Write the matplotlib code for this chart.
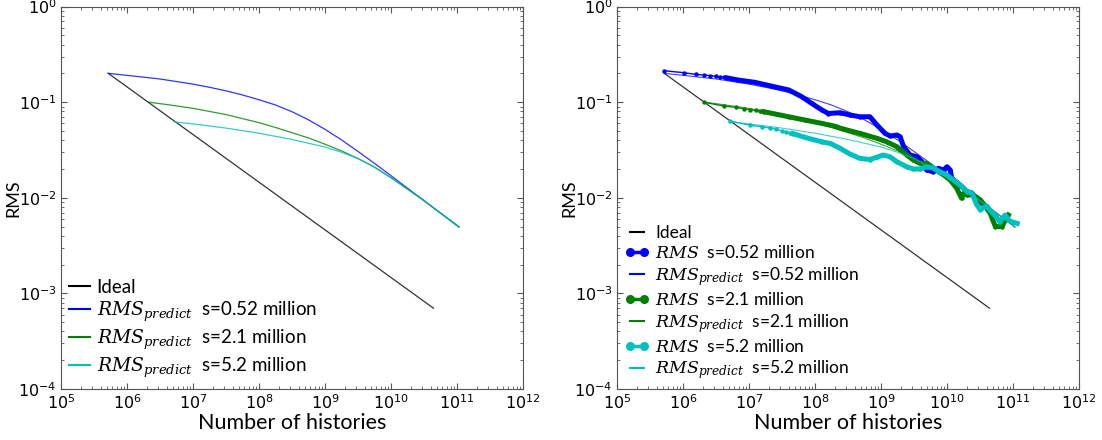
import matplotlib
matplotlib.use("Agg")
import matplotlib.pyplot as plt
from matplotlib.lines import Line2D

plt.rcParams["mathtext.fontset"] = "dejavuserif"
plt.rcParams["font.family"] = ["Lato", "DejaVu Sans"]

# ideal 1/sqrt(N) reference line (end points)
ideal_x = [5.2e5, 4.4e10]
ideal_y = [0.200, 7.0e-4]

# predicted RMS curves
blue_pred_x = [5.2e5, 1e6, 3.16e6, 1e7, 1.78e7, 3.16e7, 5.62e7, 1e8, 1.78e8, 3.16e8,
               5.62e8, 1e9, 1.78e9, 3.16e9, 5.62e9, 1e10, 3.16e10, 1.07e11]
blue_pred_y = [0.200, 0.1905, 0.1746, 0.1542, 0.1429, 0.1312, 0.1189, 0.1059, 0.0933,
               0.0794, 0.0653, 0.0519, 0.0403, 0.0305, 0.0229, 0.0170, 0.00933, 0.00495]
green_pred_x = [2.1e6, 4e6, 1e7, 3.16e7, 1e8, 1.78e8, 3.16e8, 5.62e8, 1e9, 1.78e9,
                3.16e9, 5.62e9, 1e10, 1.78e10, 3.16e10, 1.07e11]
green_pred_y = [0.100, 0.0944, 0.0861, 0.0741, 0.0610, 0.0543, 0.0479, 0.0422, 0.0363,
                0.0309, 0.0257, 0.0209, 0.0162, 0.0123, 0.00933, 0.00495]
cyan_pred_x = [5.2e6, 1e7, 3.16e7, 1e8, 3.16e8, 1e9, 1.78e9, 3.16e9, 5.62e9, 1e10,
               1.78e10, 3.16e10, 1.07e11]
cyan_pred_y = [0.0621, 0.0592, 0.0535, 0.0473, 0.0407, 0.0339, 0.0299, 0.0257, 0.0209,
               0.0162, 0.0123, 0.00933, 0.00495]

# measured RMS (right panel)
blue_meas_x = [5.2e5, 1.04e6, 1.56e6, 2.08e6, 2.6e6, 3.12e6, 3.64e6, 4.16e6, 4.68e6,
               6.9e6, 1.23e7, 2.2e7, 4e7, 6.3e7, 8.9e7, 1.26e8, 1.6e8, 2.4e8, 3.4e8,
               4.8e8, 6.8e8, 8.7e8, 1.15e9, 1.38e9, 1.74e9, 1.95e9, 2.2e9, 2.75e9,
               3.5e9, 4.2e9, 4.9e9, 6.2e9, 7.4e9, 8.9e9, 1e10, 1.12e10, 1.18e10,
               1.58e10, 2e10, 2.4e10, 2.9e10, 3.5e10, 4e10]
blue_meas_y = [0.213, 0.203, 0.195, 0.192, 0.189, 0.186, 0.183, 0.182, 0.179,
               0.170, 0.161, 0.147, 0.134, 0.114, 0.097, 0.083, 0.076, 0.0775, 0.0733,
               0.0703, 0.0703, 0.0576, 0.0471, 0.0442, 0.0453, 0.0435, 0.0342, 0.028,
               0.0268, 0.0238, 0.0195, 0.0187, 0.0203, 0.0195, 0.0211, 0.0195, 0.016,
               0.0136, 0.0116, 0.0112, 0.0091, 0.0087, 0.0078]
green_meas_x = [2.1e6, 4.2e6, 6.3e6, 8.4e6, 1.05e7, 1.26e7, 1.47e7, 1.68e7, 4e7, 7e7,
                1.26e8, 2e8, 2.5e8, 4.8e8, 8.7e8, 1.22e9, 1.74e9, 2.45e9, 3.1e9, 3.9e9,
                4.9e9, 6.2e9, 8.9e9, 1.12e10, 1.4e10, 1.66e10, 1.78e10, 2e10, 2.5e10,
                3.2e10, 4.5e10, 5.4e10, 6.8e10, 7.6e10, 8.5e10]
green_meas_y = [0.0995, 0.091, 0.0882, 0.0853, 0.0833, 0.082, 0.0807, 0.0794, 0.0703,
                0.065, 0.060, 0.056, 0.053, 0.0471, 0.0418, 0.0385, 0.0342, 0.028,
                0.0248, 0.0229, 0.0229, 0.0203, 0.0173, 0.0153, 0.0126, 0.0099, 0.0111,
                0.0107, 0.0107, 0.0095, 0.0069, 0.0050, 0.0050, 0.0058, 0.0066]
cyan_meas_x = [5.2e6, 1.04e7, 1.56e7, 2.08e7, 2.6e7, 3.12e7, 3.64e7, 4.16e7, 4.68e7,
               7e7, 1.26e8, 1.7e8, 2.4e8, 3.4e8, 4.8e8, 6.8e8, 8.6e8, 1.08e9, 1.37e9,
               1.74e9, 2.45e9, 3.1e9, 3.9e9, 4.9e9, 6.2e9, 7.8e9, 9.9e9, 1.26e10,
               1.58e10, 2e10, 2.4e10, 2.8e10, 3.2e10, 4e10, 4.5e10, 5.6e10, 6.3e10,
               7.6e10, 8.9e10, 1.15e11]
cyan_meas_y = [0.0634, 0.0572, 0.0553, 0.0536, 0.0523, 0.0502, 0.049, 0.0478, 0.0468,
               0.0428, 0.0385, 0.037, 0.0329, 0.0286, 0.0258, 0.0251, 0.0265, 0.028,
               0.0268, 0.0238, 0.0211, 0.020, 0.020, 0.0211, 0.0205, 0.0187, 0.0173,
               0.0153, 0.0136, 0.0116, 0.0112, 0.0085, 0.0075, 0.0082, 0.0074, 0.0063,
               0.0056, 0.0066, 0.0057, 0.0054]

sizes = ["0.52", "2.1", "5.2"]
colors = ["b", "g", "c"]
preds = [(blue_pred_x, blue_pred_y), (green_pred_x, green_pred_y), (cyan_pred_x, cyan_pred_y)]
meas = [(blue_meas_x, blue_meas_y), (green_meas_x, green_meas_y), (cyan_meas_x, cyan_meas_y)]
dense_from = [8, 7, 8]  # index where the sampled points merge into a thick trace

W, H = 1102, 440
fig = plt.figure(figsize=(W / 100, H / 100), dpi=100)
ax1 = fig.add_axes([61 / W, 1 - 389 / H, 462 / W, 382.5 / H])
ax2 = fig.add_axes([617 / W, 1 - 389 / H, 462 / W, 382.5 / H])


def style_axes(ax):
    ax.set_xscale("log")
    ax.set_yscale("log")
    ax.set_xlim(1e5, 1e12)
    ax.set_ylim(1e-4, 1)
    ax.tick_params(which="both", direction="in", top=True, right=True,
                   labelsize=11.5, labelfontfamily="DejaVu Sans", pad=3, color="#555555")
    ax.tick_params(which="major", length=4)
    ax.tick_params(which="minor", length=2)
    for sp in ax.spines.values():
        sp.set_color("#555555")
    ax.set_xlabel("Number of histories", fontsize=15.5)
    ax.set_ylabel("RMS", fontsize=13)
    ax.xaxis.set_label_coords(0.5, -0.062)
    ax.yaxis.set_label_coords(-0.086, 0.5)


# left panel: prediction only
ax1.plot(ideal_x, ideal_y, color="#333333", lw=0.9, label="Ideal")
for (px, py), c, s in zip(preds, colors, sizes):
    ax1.plot(px, py, color=c, lw=0.9, alpha=0.8,
             label=r"$RMS_{predict}$" + f"  s={s} million")
style_axes(ax1)
h1, l1 = ax1.get_legend_handles_labels()
leg_h1 = [Line2D([], [], color="k", lw=1.5)] + \
         [Line2D([], [], color=c, lw=1.5) for c in colors]
ax1.legend(leg_h1, l1, loc="lower left", frameon=False, fontsize=13.5,
           handlelength=1.15, handletextpad=0.35, labelspacing=0.2,
           borderaxespad=0.3, bbox_to_anchor=(-0.012, -0.01))

# right panel: measured vs predicted
ax2.plot(ideal_x, ideal_y, color="#333333", lw=0.9)
handles, labels = [Line2D([], [], color="k", lw=1.5)], ["Ideal"]
for (mx, my), (px, py), c, s, k in zip(meas, preds, colors, sizes, dense_from):
    ax2.plot(mx, my, color=c, lw=1, marker="o", ms=3.2, mec="none")
    ax2.plot(mx[k:], my[k:], color=c, lw=3.6, solid_joinstyle="round")
    ax2.plot(px, py, color=c, lw=0.8, alpha=0.75)
    handles.append(Line2D([], [], color=c, lw=2.5, marker="o", ms=6.5, mec="none"))
    labels.append(r"$RMS$" + f"  s={s} million")
    handles.append(Line2D([], [], color=c, lw=1.5))
    labels.append(r"$RMS_{predict}$" + f"  s={s} million")
style_axes(ax2)
ax2.legend(handles, labels, loc="lower left", frameon=False, fontsize=12.5,
           handlelength=1.4, handletextpad=0.35, labelspacing=0.2, numpoints=2,
           borderaxespad=0.3, bbox_to_anchor=(-0.01, -0.012))

fig.savefig("out.png", dpi=100)
